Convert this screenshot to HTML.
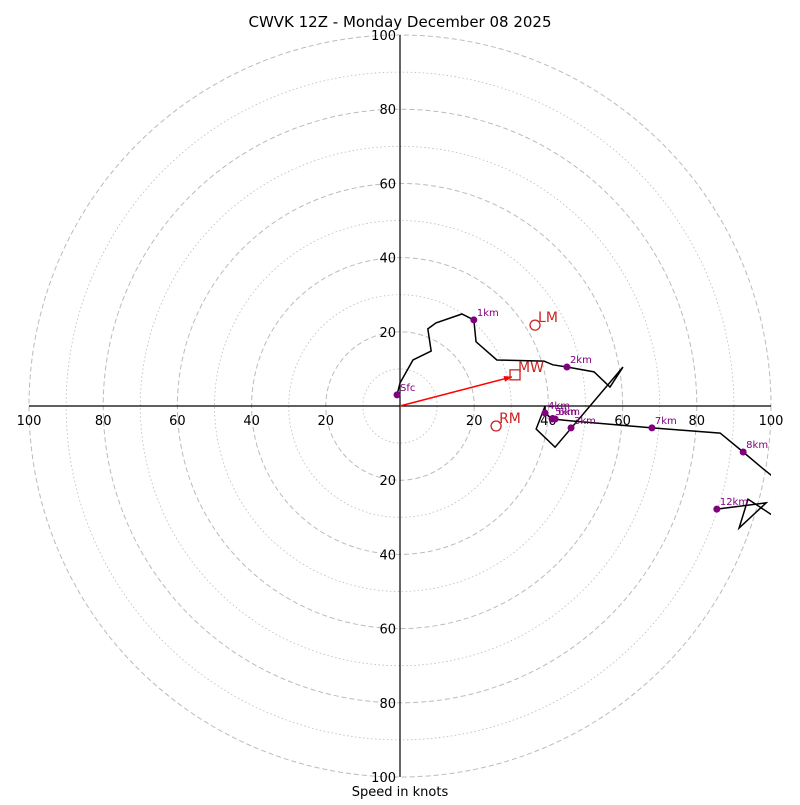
<!DOCTYPE html>
<html><head><meta charset="utf-8"><style>
body{margin:0;background:#fff;font-family:"Liberation Sans","DejaVu Sans",sans-serif}
</style></head><body>
<svg id="c" width="800" height="800" xmlns="http://www.w3.org/2000/svg" font-family="DejaVu Sans, Liberation Sans, sans-serif">
<defs><clipPath id="clip"><rect x="29" y="35" width="742" height="742"/></clipPath></defs>
<text x="400" y="27" text-anchor="middle" font-size="15">CWVK 12Z - Monday December 08 2025</text>
<text x="400" y="796" text-anchor="middle" font-size="13">Speed in knots</text>
<g id="rings"></g><g id="axes"></g><g id="plot" clip-path="url(#clip)"></g><g id="marks"></g>
</svg>
<script>
const ringValues=[10,20,30,40,50,60,70,80,90,100];
const tickLabels=[20,40,60,80,100];
const pathU=[-0.8,0,3.5,8.4,7.5,9.7,16.7,19.9,20.5,26.1,38.8,41.2,45.0,52.3,56.6,60.1,41.8,36.7,39.1,39.1,41.0,46.1,67.9,86.3,92.5,97.6,105,105,100.3,93.8,91.4,98.7,85.4];
const pathV=[3.0,6.2,12.4,14.8,20.8,22.4,24.8,23.2,17.3,12.4,12.1,11.1,10.5,9.2,5.1,10.5,-11.1,-6.2,0,-1.9,-3.5,-4.0,-5.9,-7.3,-12.4,-16.7,-22.6,-32,-29.4,-25.1,-32.9,-26.1,-27.8];
const markerNames=["Sfc","1km","2km","3km","4km","5km","6km","7km","8km","12km"];
const markerU=[-0.8,19.9,45.0,46.1,39.1,41.0,41.8,67.9,92.5,85.4];
const markerV=[3.0,23.2,10.5,-5.9,-1.9,-3.5,-3.5,-5.9,-12.4,-27.8];
const motionNames=["LM","MW","RM"];
const motionU=[36.4,31.0,25.9];
const motionV=[21.8,8.4,-5.4];
const NS="http://www.w3.org/2000/svg",K=3.71,CX=400,CY=406;
const X=u=>CX+u*K, Y=v=>CY-v*K;
function mk(t,a,p){const e=document.createElementNS(NS,t);for(const k in a)e.setAttribute(k,a[k]);document.getElementById(p).appendChild(e);return e;}
ringValues.forEach(r=>{const e=mk('circle',{cx:CX,cy:CY,r:r*K,fill:'none',stroke:'#bbb','stroke-width':r%20?0.8:1,'stroke-dasharray':r%20?'1.5,2.5':'5,3'},'rings');

});
let l=mk('line',{x1:29,y1:CY,x2:771,y2:CY,stroke:'#000','stroke-width':1.2},'axes');


l=mk('line',{x1:CX,y1:35,x2:CX,y2:777,stroke:'#000','stroke-width':1.2},'axes');


tickLabels.forEach(t=>{[[X(t),CY+19,'middle'],[X(-t),CY+19,'middle'],[CX-4,Y(t)+5,'end'],[CX-4,Y(-t)+5,'end']].forEach(p=>{const e=mk('text',{x:p[0],y:p[1],'text-anchor':p[2],'font-size':13},'axes');e.textContent=t;

});});
const hp=mk('polyline',{points:pathU.map((u,i)=>X(u)+','+Y(pathV[i])).join(' '),fill:'none',stroke:'#000','stroke-width':1.5},'plot');


const i1=1;const mx=X(motionU[i1])-3,my=Y(motionV[i1])+2;
const ar=mk('line',{x1:CX,y1:CY,x2:mx,y2:my,stroke:'red','stroke-width':1.5},'marks');


const ang=Math.atan2(my-CY,mx-CX);
const ah=mk('polygon',{points:`${mx},${my} ${mx-8*Math.cos(ang)+3*Math.sin(ang)},${my-8*Math.sin(ang)-3*Math.cos(ang)} ${mx-8*Math.cos(ang)-3*Math.sin(ang)},${my-8*Math.sin(ang)+3*Math.cos(ang)}`,fill:'red'},'marks');


markerNames.forEach((n,i)=>{const c=mk('circle',{cx:X(markerU[i]),cy:Y(markerV[i]),r:3.5,fill:'purple'},'marks');


const t=mk('text',{x:X(markerU[i])+3,y:Y(markerV[i])-4,'font-size':10,fill:'purple'},'marks');t.textContent=n;

});
motionNames.forEach((n,i)=>{const x=X(motionU[i]),y=Y(motionV[i]);let e;
if(n==='MW')e=mk('rect',{x:x-5,y:y-5,width:10,height:10,fill:'none',stroke:'#c22','stroke-width':1.3},'marks');
else e=mk('circle',{cx:x,cy:y,r:5,fill:'none',stroke:'#c22','stroke-width':1.3},'marks');


const t=mk('text',{x:x+3,y:y-3,'font-size':14,fill:'#c22'},'marks');t.textContent=n;

});
</script>
</body></html>
